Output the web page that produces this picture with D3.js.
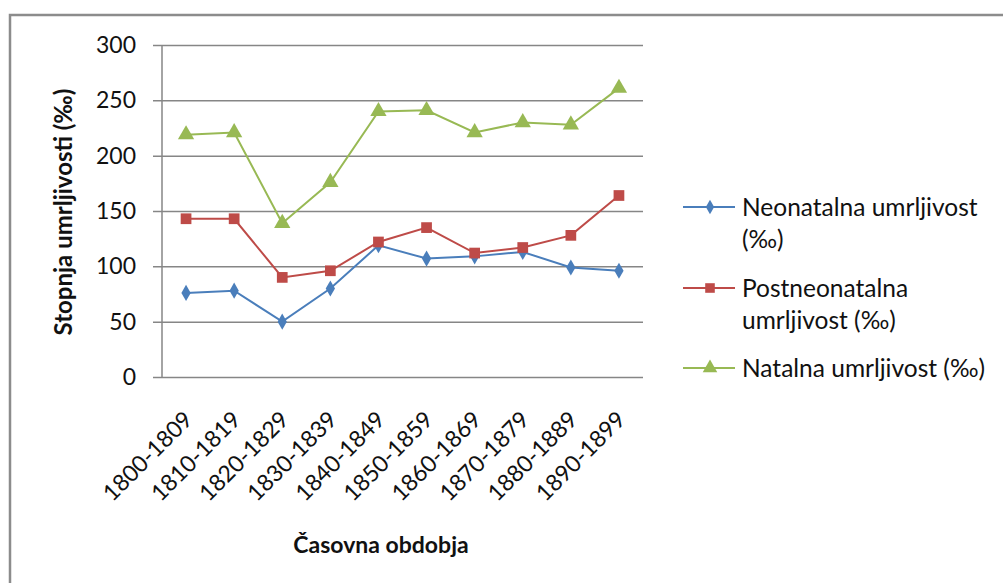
<!DOCTYPE html>
<html>
<head>
<meta charset="utf-8">
<script src="https://cdn.jsdelivr.net/npm/d3@7"></script>
<style>
  html, body { margin: 0; padding: 0; background: #fff; }
  svg { display: block; font-family: Lato, "Open Sans", sans-serif; }
</style>
</head>
<body>
<svg id="chart" width="1003" height="583"></svg>
<script>
// podatki
var periods = ["1800-1809", "1810-1819", "1820-1829", "1830-1839", "1840-1849",
               "1850-1859", "1860-1869", "1870-1879", "1880-1889", "1890-1899"];
var neonatal     = [76, 78, 50, 80, 119, 107, 109, 113, 99, 96];
var postneonatal = [143, 143, 90, 96, 122, 135, 112, 117, 128, 164];
var natal        = [219, 221, 139, 176, 240, 241, 221, 230, 228, 261];
var yTicks = [0, 50, 100, 150, 200, 250, 300];
var seriesNames = [["Neonatalna umrljivost", "(‰)"], ["Postneonatalna", "umrljivost (‰)"], ["Natalna umrljivost (‰)"]];

(function () {
  "use strict";
  var series = [
    { name: seriesNames[0], values: neonatal,     color: "#4a7ebb", shape: d3.symbolDiamond,  size: 75 },
    { name: seriesNames[1], values: postneonatal, color: "#be4b48", shape: d3.symbolSquare,   size: 115 },
    { name: seriesNames[2], values: natal,        color: "#98b954", shape: d3.symbolTriangle, size: 115 }
  ];
  var FS = 23;
  var svg = d3.select("#chart");
  var pL = 162, pR = 643, pT = 45, pB = 377;

  // okvir grafikona
  svg.append("rect").attr("x", 10).attr("y", 15).attr("width", 1100).attr("height", 700)
    .attr("fill", "none").attr("stroke", "#8c8c8c").attr("stroke-width", 2.5);

  var x = d3.scaleBand().domain(periods).range([pL, pR]);
  var y = d3.scaleLinear().domain([0, 300]).range([pB, pT]);

  // mreža + y os
  var yAxis = svg.append("g").attr("transform", "translate(" + pL + ",0)")
    .call(d3.axisLeft(y).tickValues(yTicks).tickSize(-(pR - pL)).tickSizeOuter(0).tickPadding(26));
  yAxis.select(".domain").remove();
  yAxis.selectAll(".tick line").attr("stroke", "#868686").attr("stroke-width", 1.5).attr("x1", -9);
  yAxis.selectAll(".tick text").attr("font-size", FS).attr("fill", "#111").attr("font-family", "Lato");
  svg.append("line").attr("x1", pL).attr("x2", pL).attr("y1", pT).attr("y2", pB)
    .attr("stroke", "#868686").attr("stroke-width", 1.5);

  // x os (brez kljukic)
  var xAxis = svg.append("g").attr("transform", "translate(0," + pB + ")")
    .call(d3.axisBottom(x).tickSize(0));
  xAxis.select(".domain").remove();
  xAxis.selectAll(".tick text")
    .attr("font-size", FS).attr("fill", "#111").attr("font-family", "Lato")
    .attr("text-anchor", "end").attr("dy", null).attr("y", 0)
    .attr("transform", "translate(8,44) rotate(-45)");

  // črte + oznake
  var line = d3.line()
    .x(function (d, i) { return x(periods[i]) + x.bandwidth() / 2; })
    .y(function (d) { return y(d); });

  series.forEach(function (s) {
    svg.append("path").datum(s.values).attr("d", line)
      .attr("fill", "none").attr("stroke", s.color).attr("stroke-width", 2);
    svg.append("g").selectAll("path").data(s.values).enter().append("path")
      .attr("d", d3.symbol().type(s.shape).size(s.size))
      .attr("transform", function (d, i) {
        return "translate(" + (x(periods[i]) + x.bandwidth() / 2) + "," + y(d) + ")";
      })
      .attr("fill", s.color);
  });

  // naslovi osi
  svg.append("text").attr("transform", "translate(72,212) rotate(-90)")
    .attr("text-anchor", "middle").attr("font-size", 24).attr("font-weight", "bold")
    .attr("fill", "#111").text("Stopnja umrljivosti (‰)");
  svg.append("text").attr("x", 381).attr("y", 553)
    .attr("text-anchor", "middle").attr("font-size", FS).attr("font-weight", "bold")
    .attr("fill", "#111").text("Časovna obdobja");

  // legenda
  var legendY = [207, 288, 368];
  var leg = svg.append("g");
  series.forEach(function (s, k) {
    var g = leg.append("g").attr("transform", "translate(0," + legendY[k] + ")");
    g.append("line").attr("x1", 683).attr("x2", 735).attr("stroke", s.color).attr("stroke-width", 2);
    g.append("path").attr("d", d3.symbol().type(s.shape).size(s.size * 0.8)())
      .attr("transform", "translate(710,0)").attr("fill", s.color);
    var t = g.append("text").attr("x", 742).attr("font-size", 24.5).attr("fill", "#111");
    s.name.forEach(function (ln, j) {
      t.append("tspan").attr("x", 742).attr("y", j * 32).attr("dy", "0.35em").text(ln);
    });
  });
})();
</script>
</body>
</html>
